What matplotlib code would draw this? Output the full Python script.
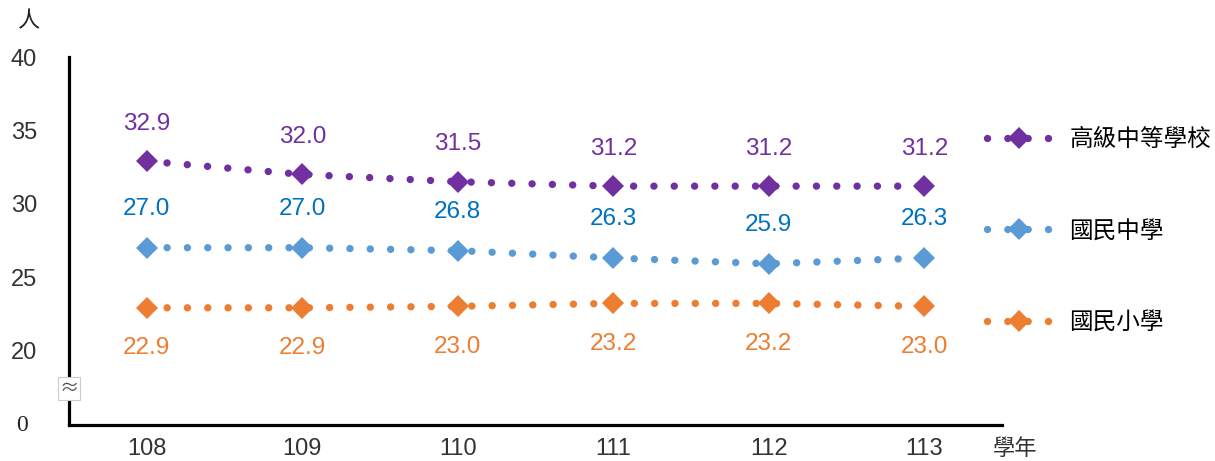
import matplotlib
matplotlib.use("Agg")
import matplotlib.pyplot as plt

plt.rcParams['font.family'] = ['Noto Sans CJK TC', 'DejaVu Sans']

years = [108, 109, 110, 111, 112, 113]
senior_high = [32.9, 32.0, 31.5, 31.2, 31.2, 31.2]
junior_high = [27.0, 27.0, 26.8, 26.3, 25.9, 26.3]
elementary = [22.9, 22.9, 23.0, 23.2, 23.2, 23.0]
series_names = ['高級中等學校', '國民中學', '國民小學']
y_ticks = [20, 25, 30, 35, 40]

# axis break: 0 drawn a bit below 20
y_zero = 14.9

fig = plt.figure(figsize=(12.15, 4.61), dpi=100)
ax = fig.add_axes([0.0568, 0.078, 0.768, 0.798])

line_colors = ['#7030A0', '#5B9BD5', '#ED7D31']
label_colors = ['#7030A0', '#0070C0', '#ED7D31']
offsets = [27, 28, -29]

for vals, name, lc, tc, off in zip([senior_high, junior_high, elementary],
                                   series_names, line_colors, label_colors, offsets):
    ax.plot(years, vals, color=lc, lw=5.3, linestyle=(0, (0.01, 2.75)),
            dash_capstyle='round', marker='D', markersize=11.5,
            markeredgewidth=0, label=name)
    for x, v in zip(years, vals):
        ax.annotate(f'{v:.1f}', (x, v), xytext=(0, off), textcoords='offset points',
                    ha='center', va='center', fontsize=17.5, color=tc,
                    family=['Liberation Sans', 'DejaVu Sans'])

ax.set_xlim(107.5, 113.5)
ax.set_ylim(y_zero, 40)
ax.set_xticks(years)
ax.set_xticklabels([str(y) for y in years], fontsize=17, color='#333333',
                   family=['Liberation Sans'])
ax.set_yticks([y_zero] + y_ticks)
ax.set_yticklabels([''] + [str(t) for t in y_ticks], fontsize=17, color='#333333',
                   family=['Liberation Sans'])
ax.tick_params(axis='x', length=0, pad=9)
ax.tick_params(axis='y', length=0, pad=23)
ax.text(-0.050, y_zero, '0', transform=ax.get_yaxis_transform(), ha='center',
        va='center', fontsize=17, color='#222222', family=['Liberation Serif'])
for s in ['top', 'right']:
    ax.spines[s].set_visible(False)
for s in ['left', 'bottom']:
    ax.spines[s].set_linewidth(2.3)

ax.text(0, 17.4, '≈', transform=ax.get_yaxis_transform(), ha='center', va='center',
        fontsize=14, color='#555555',
        bbox=dict(boxstyle='square,pad=0.05', fc='white', ec='#cccccc', lw=0.8))

fig.text(0.014, 0.955, '人', fontsize=16, color='#222222', ha='left', va='center')
fig.text(0.817, 0.028, '學年', fontsize=16, color='#333333', ha='left', va='center')

ax.legend(loc='center left', bbox_to_anchor=(0.984, 0.527), frameon=False,
          fontsize=17, handlelength=2.7, handletextpad=0.78, labelspacing=2.9,
          borderaxespad=0, borderpad=0)

fig.savefig('out.png', dpi=100)
